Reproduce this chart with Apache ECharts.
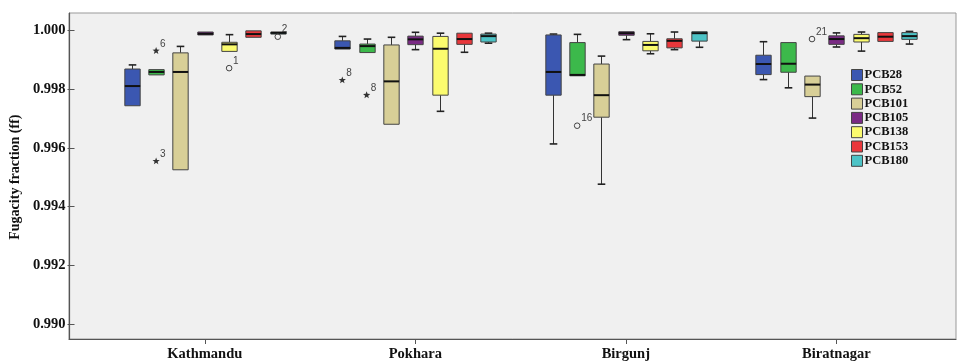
<!DOCTYPE html>
<html><head><meta charset="utf-8">
<script src="https://cdn.jsdelivr.net/npm/echarts@6/dist/echarts.min.js"></script>
<style>html,body{margin:0;padding:0;background:#fff}#c{width:957px;height:363px}</style>
</head><body><div id="c"></div>
<script>
// ---- data ----
const cities = ['Kathmandu', 'Pokhara', 'Birgunj', 'Biratnagar'];
const pcbNames = ['PCB28', 'PCB52', 'PCB101', 'PCB105', 'PCB138', 'PCB153', 'PCB180'];
const pcbColors = ['#3b57b1', '#3cb94b', '#d8cf97', '#7a2a84', '#fbfb6e', '#e9373b', '#4cc3c6'];
const yMin = 0.990, yMax = 1.000, yInterval = 0.002;

// each row per city: [min, Q1, median, Q3, max]
const PCB28 = [
  [0.99743, 0.99743, 0.99810, 0.99868, 0.99882],
  [0.99936, 0.99936, 0.99940, 0.99964, 0.99979],
  [0.99613, 0.99779, 0.99858, 0.99984, 0.99987],
  [0.99832, 0.99849, 0.99885, 0.99915, 0.99961]
];
const PCB52 = [
  [0.99848, 0.99848, 0.99858, 0.99866, 0.99866],
  [0.99924, 0.99924, 0.99946, 0.99953, 0.99970],
  [0.99845, 0.99845, 0.99848, 0.99958, 0.99986],
  [0.99804, 0.99857, 0.99886, 0.99958, 0.99958]
];
const PCB101 = [
  [0.99525, 0.99525, 0.99858, 0.99923, 0.99945],
  [0.99680, 0.99680, 0.99826, 0.99950, 0.99976],
  [0.99476, 0.99704, 0.99779, 0.99885, 0.99912],
  [0.99701, 0.99774, 0.99815, 0.99844, 0.99844]
];
const PCB105 = [
  [0.99982, 0.99984, 0.99988, 0.99994, 0.99996],
  [0.99934, 0.99951, 0.99969, 0.99980, 0.99993],
  [0.99968, 0.99983, 0.99990, 0.99995, 0.99997],
  [0.99943, 0.99952, 0.99970, 0.99981, 0.99991]
];
const PCB138 = [
  [0.99928, 0.99928, 0.99952, 0.99959, 0.99985],
  [0.99724, 0.99779, 0.99937, 0.99979, 0.99990],
  [0.99920, 0.99930, 0.99950, 0.99962, 0.99988],
  [0.99929, 0.99960, 0.99973, 0.99986, 0.99994]
];
const PCB153 = [
  [0.99975, 0.99976, 0.99987, 0.99998, 0.99999],
  [0.99925, 0.99952, 0.99970, 0.99990, 0.99990],
  [0.99934, 0.99940, 0.99964, 0.99971, 0.99994],
  [0.99960, 0.99962, 0.99978, 0.99992, 0.99993]
];
const PCB180 = [
  [0.99986, 0.99987, 0.99991, 0.99994, 0.99996],
  [0.99956, 0.99960, 0.99980, 0.99987, 0.99990],
  [0.99942, 0.99963, 0.99990, 0.99995, 0.99997],
  [0.99953, 0.99969, 0.99980, 0.99992, 0.99996]
];
const pcbData = [PCB28, PCB52, PCB101, PCB105, PCB138, PCB153, PCB180];

// outliers: city, pcb, value, case label, kind ('star' = extreme, 'circle' = outlier)
const outlierCity  = ['Kathmandu', 'Kathmandu', 'Kathmandu', 'Kathmandu', 'Pokhara', 'Pokhara', 'Birgunj', 'Biratnagar'];
const outlierPcb   = ['PCB52', 'PCB52', 'PCB138', 'PCB180', 'PCB28', 'PCB52', 'PCB52', 'PCB101'];
const outlierValue = [0.99930, 0.99554, 0.99871, 0.99978, 0.99830, 0.99779, 0.99675, 0.99970];
const outlierLabel = ['6', '3', '1', '2', '8', '8', '16', '21'];
const outlierKind  = ['star', 'star', 'circle', 'circle', 'star', 'star', 'circle', 'circle'];

// ---- layout constants (fractions of the category band) ----
const STEP = 0.1156, BOXW = 0.073;

function boxRenderer(k) {
  return function (params, api) {
    const cat = api.value(0);
    const band = api.size([1, 0])[0];
    const cx = Math.round(api.coord([cat, 0.995])[0] + (k - 3) * band * STEP) + 0.5;
    const hw = band * BOXW / 2;
    const py = i => api.coord([cat, api.value(i)])[1];
    const vMin = py(1), vQ1 = py(2), vMed = py(3), vQ3 = py(4), vMax = py(5);
    const color = pcbColors[k];
    const ch = [];
    const capHw = 3.8;
    if (vQ3 - vMax > 0.8) {
      ch.push({type: 'line', shape: {x1: cx, y1: vQ3, x2: cx, y2: vMax}, style: {stroke: '#333', lineWidth: 1}});
      ch.push({type: 'line', shape: {x1: cx - capHw, y1: vMax, x2: cx + capHw, y2: vMax}, style: {stroke: '#222', lineWidth: 1.6}});
    }
    if (vMin - vQ1 > 0.8) {
      ch.push({type: 'line', shape: {x1: cx, y1: vQ1, x2: cx, y2: vMin}, style: {stroke: '#333', lineWidth: 1}});
      ch.push({type: 'line', shape: {x1: cx - capHw, y1: vMin, x2: cx + capHw, y2: vMin}, style: {stroke: '#222', lineWidth: 1.6}});
    }
    ch.push({type: 'rect', shape: {x: cx - hw, y: vQ3, width: hw * 2, height: Math.max(vQ1 - vQ3, 1)},
      style: {fill: color, stroke: '#444', lineWidth: 1}});
    ch.push({type: 'line', shape: {x1: cx - hw, y1: vMed, x2: cx + hw, y2: vMed}, style: {stroke: '#111', lineWidth: 2}});
    return {type: 'group', children: ch};
  };
}

function starPoints(cx, cy, r1, r2) {
  const pts = [];
  for (let i = 0; i < 10; i++) {
    const a = -Math.PI / 2 + i * Math.PI / 5;
    const r = i % 2 ? r2 : r1;
    pts.push([cx + r * Math.cos(a), cy + r * Math.sin(a)]);
  }
  return pts;
}

function outlierRenderer(params, api) {
  const cat = api.value(0);
  const k = api.value(1);
  const band = api.size([1, 0])[0];
  const p = api.coord([cat, api.value(2)]);
  const cx = p[0] + (k - 3) * band * STEP;
  const cy = p[1];
  const ch = [];
  if (api.value(4) === 1) {
    ch.push({type: 'polygon', shape: {points: starPoints(cx, cy, 3.8, 1.6)}, style: {fill: '#333'}});
  } else {
    ch.push({type: 'circle', shape: {cx: cx, cy: cy, r: 2.8}, style: {fill: 'none', stroke: '#444', lineWidth: 1}});
  }
  ch.push({type: 'text', style: {text: String(api.value(3)), x: cx + 4, y: cy - 7, fill: '#444',
    font: '10px "Liberation Sans", Arial, sans-serif', textAlign: 'left', textVerticalAlign: 'middle'}});
  return {type: 'group', children: ch};
}

const series = pcbNames.map((name, k) => ({
  type: 'custom', name: name, xAxisIndex: 1, yAxisIndex: 1,
  itemStyle: {color: pcbColors[k]},
  renderItem: boxRenderer(k),
  encode: {x: 0, y: [1, 2, 3, 4, 5]},
  data: pcbData[k].map((r, c) => [c].concat(r)),
  z: 3
}));
series.push({
  type: 'custom', name: 'outliers', xAxisIndex: 1, yAxisIndex: 1,
  renderItem: outlierRenderer,
  encode: {x: 0, y: 2},
  data: outlierValue.map((v, i) => [cities.indexOf(outlierCity[i]), pcbNames.indexOf(outlierPcb[i]), v,
    Number(outlierLabel[i]), outlierKind[i] === 'star' ? 1 : 0]),
  z: 4
});

const serif = '"Liberation Serif", "Times New Roman", serif';
const option = {
  animation: false,
  backgroundColor: '#fff',
  grid: [
    {left: 69, right: 1, top: 13, bottom: 24, show: true, backgroundColor: '#f0f0f0', borderColor: '#999', borderWidth: 1},
    {left: 94, width: 847.6, top: 30.25, bottom: 39}
  ],
  xAxis: [
    {type: 'value', gridIndex: 0, min: 0, max: 1, axisLine: {show: true, lineStyle: {color: '#555', width: 1.2}},
     axisTick: {show: false}, axisLabel: {show: false}, splitLine: {show: false}},
    {type: 'category', gridIndex: 1, data: cities, offset: 15, boundaryGap: true,
     axisLine: {show: false}, axisTick: {show: true, alignWithLabel: true, length: 5, lineStyle: {color: '#555'}},
     axisLabel: {margin: 8, fontFamily: serif, fontWeight: 'bold', fontSize: 14.5, color: '#111', interval: 0},
     splitLine: {show: false}}
  ],
  yAxis: [
    {type: 'value', gridIndex: 0, min: 0, max: 1, axisLine: {show: true, lineStyle: {color: '#555', width: 1.2}},
     axisTick: {show: false}, axisLabel: {show: false}, splitLine: {show: false}},
    {type: 'value', gridIndex: 1, min: yMin, max: yMax, interval: yInterval, offset: 25,
     name: 'Fugacity fraction (ff)', nameLocation: 'middle', nameGap: 42, nameRotate: 90,
     nameTextStyle: {fontFamily: serif, fontWeight: 'bold', fontSize: 14, color: '#111'},
     axisLine: {show: false}, axisTick: {show: true, length: 7, lineStyle: {color: '#555'}},
     axisLabel: {margin: 9, fontFamily: serif, fontWeight: 'bold', fontSize: 14.5, color: '#111',
       formatter: v => v.toFixed(3)},
     splitLine: {show: false}}
  ],
  legend: {
    orient: 'vertical', left: 851, top: 68, padding: 0, itemGap: 0.3, itemWidth: 11, itemHeight: 11,
    icon: 'rect', selectedMode: false,
    textStyle: {fontFamily: serif, fontSize: 12.5, fontWeight: 'bold', color: '#111', lineHeight: 14, padding: [0, 0, 0, -3]},
    data: pcbNames.map((n, k) => ({name: n, itemStyle: {color: pcbColors[k], borderColor: '#444', borderWidth: 1}}))
  },
  series: series
};
const chart = echarts.init(document.getElementById('c'), null, {renderer: 'canvas'});
chart.setOption(option);
</script></body></html>
